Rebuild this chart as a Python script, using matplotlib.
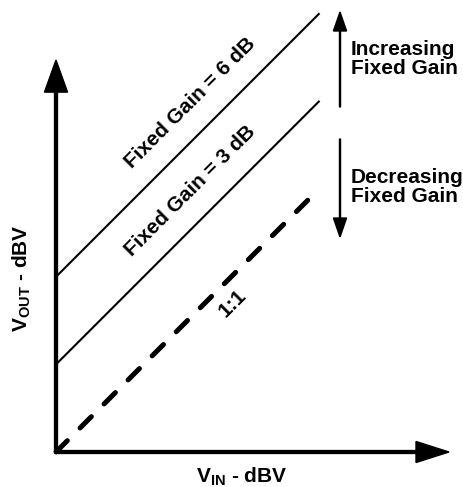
import matplotlib
matplotlib.use('Agg')
import matplotlib.pyplot as plt
import numpy as np

# Data: output level vs input level for each fixed gain (dB offsets)
vin = np.array([0, 9])
gains = [6, 3, 0]
gain_labels = ['Fixed Gain = 6 dB', 'Fixed Gain = 3 dB', '1:1']
x_label = r'$\mathbf{V_{IN}}$ - dBV'
y_label = r'$\mathbf{V_{OUT}}$ - dBV'

plt.rcParams['font.family'] = ['Liberation Sans', 'DejaVu Sans']
plt.rcParams['mathtext.fontset'] = 'custom'
plt.rcParams['mathtext.bf'] = 'Liberation Sans:bold'
plt.rcParams['mathtext.rm'] = 'Liberation Sans'

u = 29.2  # pixels per data unit
fig = plt.figure(figsize=(4.64, 4.87), dpi=100)
ax = fig.add_axes([0, 0, 1, 1])
ax.set_xlim(-56 / u, (464 - 56) / u)
ax.set_ylim(-(487 - 452) / u, 452 / u)
ax.axis('off')

fs = 15

# Gain lines
for g, lab in zip(gains, gain_labels):
    if g == 0:
        ax.plot(vin, vin + g, color='black', lw=3.6,
                ls=(0, (3.2, 3.6)), dash_capstyle='round', solid_capstyle='round')
        xm, d = 5.58, -0.48
    else:
        ax.plot(vin, vin + g, color='black', lw=1.5)
        xm, d = 5.27, 0.68
    ax.text(xm - d, xm + g + d, lab, rotation=45, rotation_mode='anchor',
            ha='center', va='center', fontsize=fs, fontweight='bold')

# Axes with arrowheads
ax.arrow(0, 0, 0, (452 - 60) / u, width=0.1, head_width=0.79, head_length=1.1,
         length_includes_head=True, color='black')
ax.arrow(0, 0, (449 - 56) / u, 0, width=0.1, head_width=0.72, head_length=1.13,
         length_includes_head=True, color='black')

# Increasing / decreasing gain arrows
xa = (340 - 56) / u
ax.arrow(xa, (452 - 107) / u, 0, (107 - 12) / u, width=0.035, head_width=0.45,
         head_length=0.65, length_includes_head=True, color='black')
ax.arrow(xa, (452 - 139) / u, 0, -(237 - 139) / u, width=0.035, head_width=0.45,
         head_length=0.65, length_includes_head=True, color='black')

ax.text((351 - 56) / u, (452 - 59) / u, 'Increasing\nFixed Gain', ha='left',
        va='center', fontsize=fs, fontweight='bold', linespacing=1.0)
ax.text((351 - 56) / u, (452 - 187) / u, 'Decreasing\nFixed Gain', ha='left',
        va='center', fontsize=fs, fontweight='bold', linespacing=1.0)

# Axis labels
ax.text((242 - 56) / u, (452 - 483) / u, x_label, ha='center', va='baseline',
        fontsize=fs, fontweight='bold')
ax.text((28 - 56) / u, (452 - 278) / u, y_label, ha='center', va='baseline',
        rotation=90, rotation_mode='anchor', fontsize=fs, fontweight='bold')

fig.savefig('out.png', dpi=100)
